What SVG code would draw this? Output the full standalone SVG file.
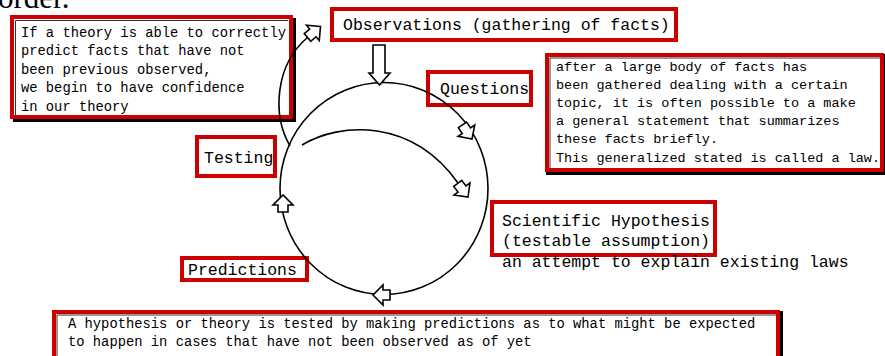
<svg xmlns="http://www.w3.org/2000/svg" width="885" height="356" viewBox="0 0 885 356">
  <defs>
    <style>
      .box { fill: #ffffff; stroke: #cc0000; stroke-width: 4; }
      .shadow { fill: #000000; }
      .inner { fill: none; stroke: #333333; stroke-width: 1; }
      .t { font-family: "Liberation Mono", "Courier New", monospace; fill: #000000; }
      .big { font-size: 16.5px; }
      .small { font-size: 13.8px; }
      .law { font-size: 13.5px; }
      .line { fill: none; stroke: #000000; stroke-width: 1.6; }
      .harrow { fill: #ffffff; stroke: #000000; stroke-width: 1.6; stroke-linejoin: miter; }
    </style>
    <path id="blk" d="M0,0 L-10,-10 L-10,-5 L-17,-5 L-17,5 L-10,5 L-10,10 Z"/>
  </defs>
  <rect width="885" height="356" fill="#ffffff"/>

  <text x="-2" y="8" font-family="Liberation Serif, Times New Roman, serif" font-size="31" fill="#000">order.</text>

  <g id="theory-note">
    <rect class="shadow" x="13" y="18" width="283" height="104"/>
    <rect class="box" x="12" y="17" width="279" height="100" stroke-width="5"/>
    <path class="inner" d="M15.5,116 V20.5 H288"/>
    <text class="t small" x="21" y="36.5">If a theory is able to correctly</text>
    <text class="t small" x="21" y="55">predict facts that have not</text>
    <text class="t small" x="21" y="73.5">been previous observed,</text>
    <text class="t small" x="21" y="91.5">we begin to have confidence</text>
    <text class="t small" x="21" y="110.5">in our theory</text>
  </g>

  <g id="observations">
    <rect class="box" x="332" y="9" width="344" height="31"/>
    <text class="t big" x="343" y="30">Observations (gathering of facts)</text>
  </g>

  <g id="questions">
    <rect class="box" x="428" y="72" width="103" height="33"/>
    <text class="t big" x="440" y="93.5">Questions</text>
  </g>

  <g id="law-note">
    <rect class="shadow" x="546" y="54" width="341" height="121"/>
    <rect class="box" x="547" y="55" width="335" height="115"/>
    <path class="inner" d="M550,168 V58 H880"/>
    <text class="t law" x="556" y="70.5">after a large body of facts has</text>
    <text class="t law" x="556" y="88.5">been gathered dealing with a certain</text>
    <text class="t law" x="556" y="106.5">topic, it is often possible to a make</text>
    <text class="t law" x="556" y="124.5">a general statement that summarizes</text>
    <text class="t law" x="556" y="143">these facts briefly.</text>
    <text class="t law" x="556" y="161.5">This generalized stated is called a law.</text>
  </g>

  <g id="testing">
    <rect class="box" x="197" y="137" width="78" height="39"/>
    <text class="t big" x="204" y="163">Testing</text>
  </g>

  <g id="hypothesis">
    <rect class="box" x="492" y="202" width="223" height="53"/>
    <text class="t big" x="502" y="226">Scientific Hypothesis</text>
    <text class="t big" x="502" y="246">(testable assumption)</text>
    <text class="t big" x="502" y="267">an attempt to explain existing laws</text>
  </g>

  <g id="predictions">
    <rect class="box" x="182" y="258" width="125" height="22"/>
    <text class="t big" x="188" y="275">Predictions</text>
  </g>

  <g id="prediction-note">
    <rect class="shadow" x="53" y="311" width="730" height="60"/>
    <rect class="box" x="54" y="312" width="724" height="60"/>
    <path class="inner" d="M57,360 V315 H776"/>
    <text class="t small" x="68" y="327.5">A hypothesis or theory is tested by making predictions as to what might be expected</text>
    <text class="t small" x="68" y="346">to happen in cases that have not been observed as of yet</text>
  </g>

  <g id="connectors">
    <ellipse class="line" cx="384" cy="188.5" rx="104" ry="106"/>
    <path class="line" d="M302,145 C340,122 412,118 458,183"/>
    <path class="line" d="M290,146 C272,115 275,65 307.5,37.5"/>
    <path class="harrow" d="M373,45 L385,45 L385,73 L390,73 L379.5,85 L369,73 L373,73 Z"/>
    <use href="#blk" class="harrow" transform="translate(320.5,26.5) rotate(-40)"/>
    <use href="#blk" class="harrow" transform="translate(472,139) rotate(56)"/>
    <use href="#blk" class="harrow" transform="translate(468,197) rotate(53)"/>
    <use href="#blk" class="harrow" transform="translate(283,195) rotate(-90)"/>
    <use href="#blk" class="harrow" transform="translate(373,295) rotate(180)"/>
  </g>
</svg>
